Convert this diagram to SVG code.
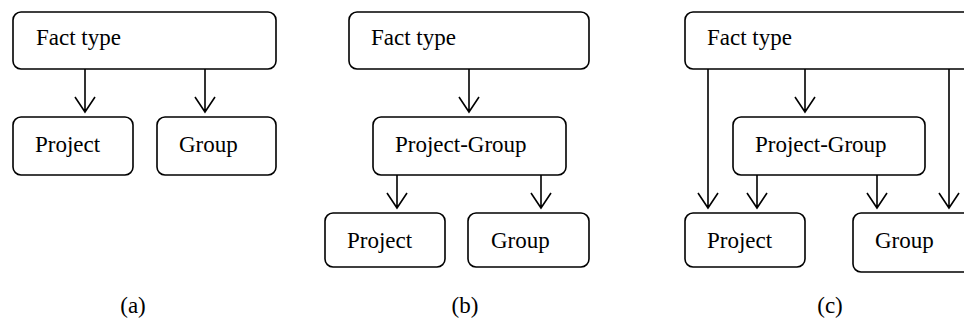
<svg xmlns="http://www.w3.org/2000/svg" width="964" height="322" viewBox="0 0 964 322">
<style>
.box{fill:#fff;stroke:#000;stroke-width:1.6}
.t{font-family:"Liberation Serif","Times New Roman",serif;font-size:23px;fill:#000}
.c{fill:none;stroke:#000;stroke-width:1.6}
</style>
<defs>
<marker id="ah" markerWidth="24" markerHeight="24" viewBox="-12 -17 24 20" refX="0" refY="0" markerUnits="userSpaceOnUse" orient="auto-start-reverse">
</marker>
</defs>
<rect width="964" height="322" fill="#fff"/>
<g id="a-fact"><rect class="box" x="13" y="12" width="263" height="57" rx="8"/><text class="t" x="36" y="45">Fact type</text></g>
<g id="a-project"><rect class="box" x="13" y="117" width="120" height="58" rx="8"/><text class="t" x="35" y="152">Project</text></g>
<g id="a-group"><rect class="box" x="157" y="117" width="119" height="58" rx="8"/><text class="t" x="179" y="152">Group</text></g>

<g id="b-fact"><rect class="box" x="349" y="12" width="240" height="57" rx="8"/><text class="t" x="371" y="45">Fact type</text></g>
<g id="b-pg"><rect class="box" x="373" y="117" width="193" height="58" rx="8"/><text class="t" x="395" y="152">Project-Group</text></g>
<g id="b-project"><rect class="box" x="325" y="213" width="120" height="54" rx="8"/><text class="t" x="347" y="248">Project</text></g>
<g id="b-group"><rect class="box" x="468" y="213" width="121" height="54" rx="8"/><text class="t" x="491" y="248">Group</text></g>

<g id="c-fact"><rect class="box" x="685" y="12" width="300" height="57" rx="8"/><text class="t" x="707" y="45">Fact type</text></g>
<g id="c-pg"><rect class="box" x="733" y="117" width="192" height="58" rx="8"/><text class="t" x="755" y="152">Project-Group</text></g>
<g id="c-project"><rect class="box" x="685" y="213" width="120" height="54" rx="8"/><text class="t" x="707" y="248">Project</text></g>
<g id="c-group"><rect class="box" x="853" y="213" width="130" height="59" rx="8"/><text class="t" x="875" y="248">Group</text></g>

<g id="connectors" class="c">
<path d="M85 69V112M75 97L85 112L95 97"/>
<path d="M205 69V112M195 97L205 112L215 97"/>
<path d="M469 69V112M459 97L469 112L479 97"/>
<path d="M397 175V208M387 193L397 208L407 193"/>
<path d="M541 175V208M531 193L541 208L551 193"/>
<path d="M708 69V208M698 193L708 208L718 193"/>
<path d="M805 69V112M795 97L805 112L815 97"/>
<path d="M949 69V208M939 193L949 208L959 193"/>
<path d="M757 175V208M747 193L757 208L767 193"/>
<path d="M877 175V208M867 193L877 208L887 193"/>
</g>
<g id="labels">
<text class="t" x="133" y="313" text-anchor="middle">(a)</text>
<text class="t" x="465" y="313" text-anchor="middle">(b)</text>
<text class="t" x="830" y="313" text-anchor="middle">(c)</text>
</g>
</svg>
